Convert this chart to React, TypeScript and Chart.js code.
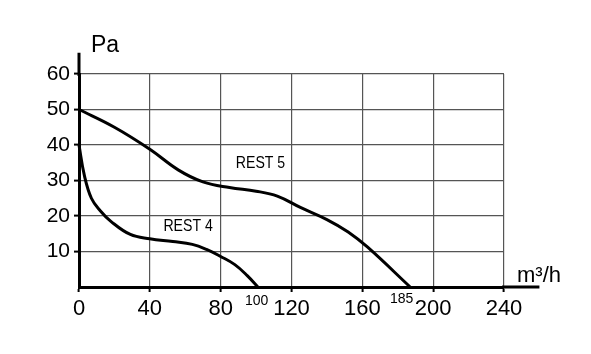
import React, { useEffect, useRef } from 'react';
import { Chart, registerables } from 'chart.js';
Chart.register(...registerables);

const xTicks = [0, 40, 80, 120, 160, 200, 240];
const yTicks = [10, 20, 30, 40, 50, 60];
const rest5X = [0, 20, 40, 56, 70, 85, 100, 112, 125, 140, 152, 163, 187];
const rest5Y = [50, 45, 38.8, 33, 29.6, 28, 27, 25.6, 22.4, 19, 15.5, 11.2, 0];
const rest4X = [0, 3, 7, 12, 18, 29, 40, 53, 64, 72, 80, 88, 95, 101];
const rest4Y = [40, 31.5, 25, 21.5, 18.5, 14.8, 13.6, 12.8, 12, 10.6, 8.6, 6.3, 3.2, 0];
const seriesNames = ['REST 5', 'REST 4'];
const seriesLabelX = [102.5, 61.6];
const seriesLabelY = [34.9, 17];
const endMarkers = ['100', '185'];
const endMarkerX = [100, 185];
const xAxisEnd = 260;
const yAxisEnd = 66;
const yUnit = 'Pa';
const xUnit = 'm³/h';

const FONT = "'Liberation Sans', Arial, sans-serif";

const extras = {
  id: 'extras',
  afterDraw(chart: any) {
    const { ctx, chartArea } = chart;
    const xs = chart.scales.x;
    const ys = chart.scales.y;
    ctx.save();
    ctx.strokeStyle = '#000';
    ctx.lineWidth = 3;
    ctx.beginPath();
    ctx.moveTo(chartArea.right - 2, ys.getPixelForValue(0));
    ctx.lineTo(xs.getPixelForValue(xAxisEnd), ys.getPixelForValue(0));
    ctx.moveTo(xs.getPixelForValue(0), chartArea.top + 2);
    ctx.lineTo(xs.getPixelForValue(0), ys.getPixelForValue(yAxisEnd));
    ctx.stroke();

    ctx.fillStyle = '#000';
    ctx.textBaseline = 'alphabetic';
    ctx.textAlign = 'left';
    ctx.font = `23px ${FONT}`;
    ctx.fillText(yUnit, xs.getPixelForValue(0) + 12, ys.getPixelForValue(yAxisEnd) - 1);
    ctx.font = `22px ${FONT}`;
    ctx.fillText(xUnit, chartArea.right + 13, ys.getPixelForValue(0) - 5);

    ctx.font = `14px ${FONT}`;
    ctx.textAlign = 'center';
    ctx.fillText(endMarkers[0], xs.getPixelForValue(endMarkerX[0]) + 0.5, ys.getPixelForValue(0) + 18);
    ctx.fillText(endMarkers[1], xs.getPixelForValue(endMarkerX[1]) - 5, ys.getPixelForValue(0) + 16);

    ctx.font = `17px ${FONT}`;
    ctx.textBaseline = 'middle';
    for (let i = 0; i < seriesNames.length; i++) {
      ctx.save();
      ctx.translate(xs.getPixelForValue(seriesLabelX[i]), ys.getPixelForValue(seriesLabelY[i]));
      ctx.scale(0.83, 1);
      ctx.fillText(seriesNames[i], 0, 0);
      ctx.restore();
    }
    ctx.restore();
  },
};

export default function App() {
  const ref = useRef<HTMLCanvasElement>(null);
  useEffect(() => {
    if (!ref.current) return;
    const mk = (xs: number[], ys: number[]) => xs.map((x, i) => ({ x, y: ys[i] }));
    const chart = new Chart(ref.current, {
      type: 'line',
      data: {
        datasets: [
          { label: seriesNames[0], data: mk(rest5X, rest5Y) },
          { label: seriesNames[1], data: mk(rest4X, rest4Y) },
        ].map((d) => ({
          ...d,
          borderColor: '#000',
          borderWidth: 3,
          pointRadius: 0,
          fill: false,
          tension: 0.4,
          clip: false as any,
        })),
      },
      options: {
        responsive: false,
        animation: false,
        layout: { padding: { top: 74, right: 87, left: 0, bottom: 0 } },
        plugins: { legend: { display: false }, tooltip: { enabled: false } },
        scales: {
          x: {
            type: 'linear',
            min: 0,
            max: 240,
            afterFit: (s: any) => { s.height = 67; },
            afterBuildTicks: (s: any) => { s.ticks = xTicks.map((v) => ({ value: v })); },
            grid: { color: '#555', lineWidth: 1.2, tickColor: '#000', tickLength: 5, tickWidth: 2 },
            border: { color: '#000', width: 3 },
            ticks: { color: '#000', font: { family: FONT, size: 22 }, padding: 4, maxRotation: 0 },
          },
          y: {
            type: 'linear',
            min: 0,
            max: 60,
            afterFit: (s: any) => { s.width = 79; },
            afterBuildTicks: (s: any) => { s.ticks = yTicks.map((v) => ({ value: v })); },
            grid: { color: '#555', lineWidth: 1.2, tickColor: '#000', tickLength: 5, tickWidth: 2 },
            border: { color: '#000', width: 3 },
            ticks: { color: '#000', font: { family: FONT, size: 21 }, padding: 4 },
          },
        },
      },
      plugins: [extras],
    });
    return () => chart.destroy();
  }, []);
  return (
    <div style={{ position: 'fixed', left: 0, top: 0, width: 591, height: 354, background: '#fff' }}>
      <canvas ref={ref} width={591} height={354} />
    </div>
  );
}
